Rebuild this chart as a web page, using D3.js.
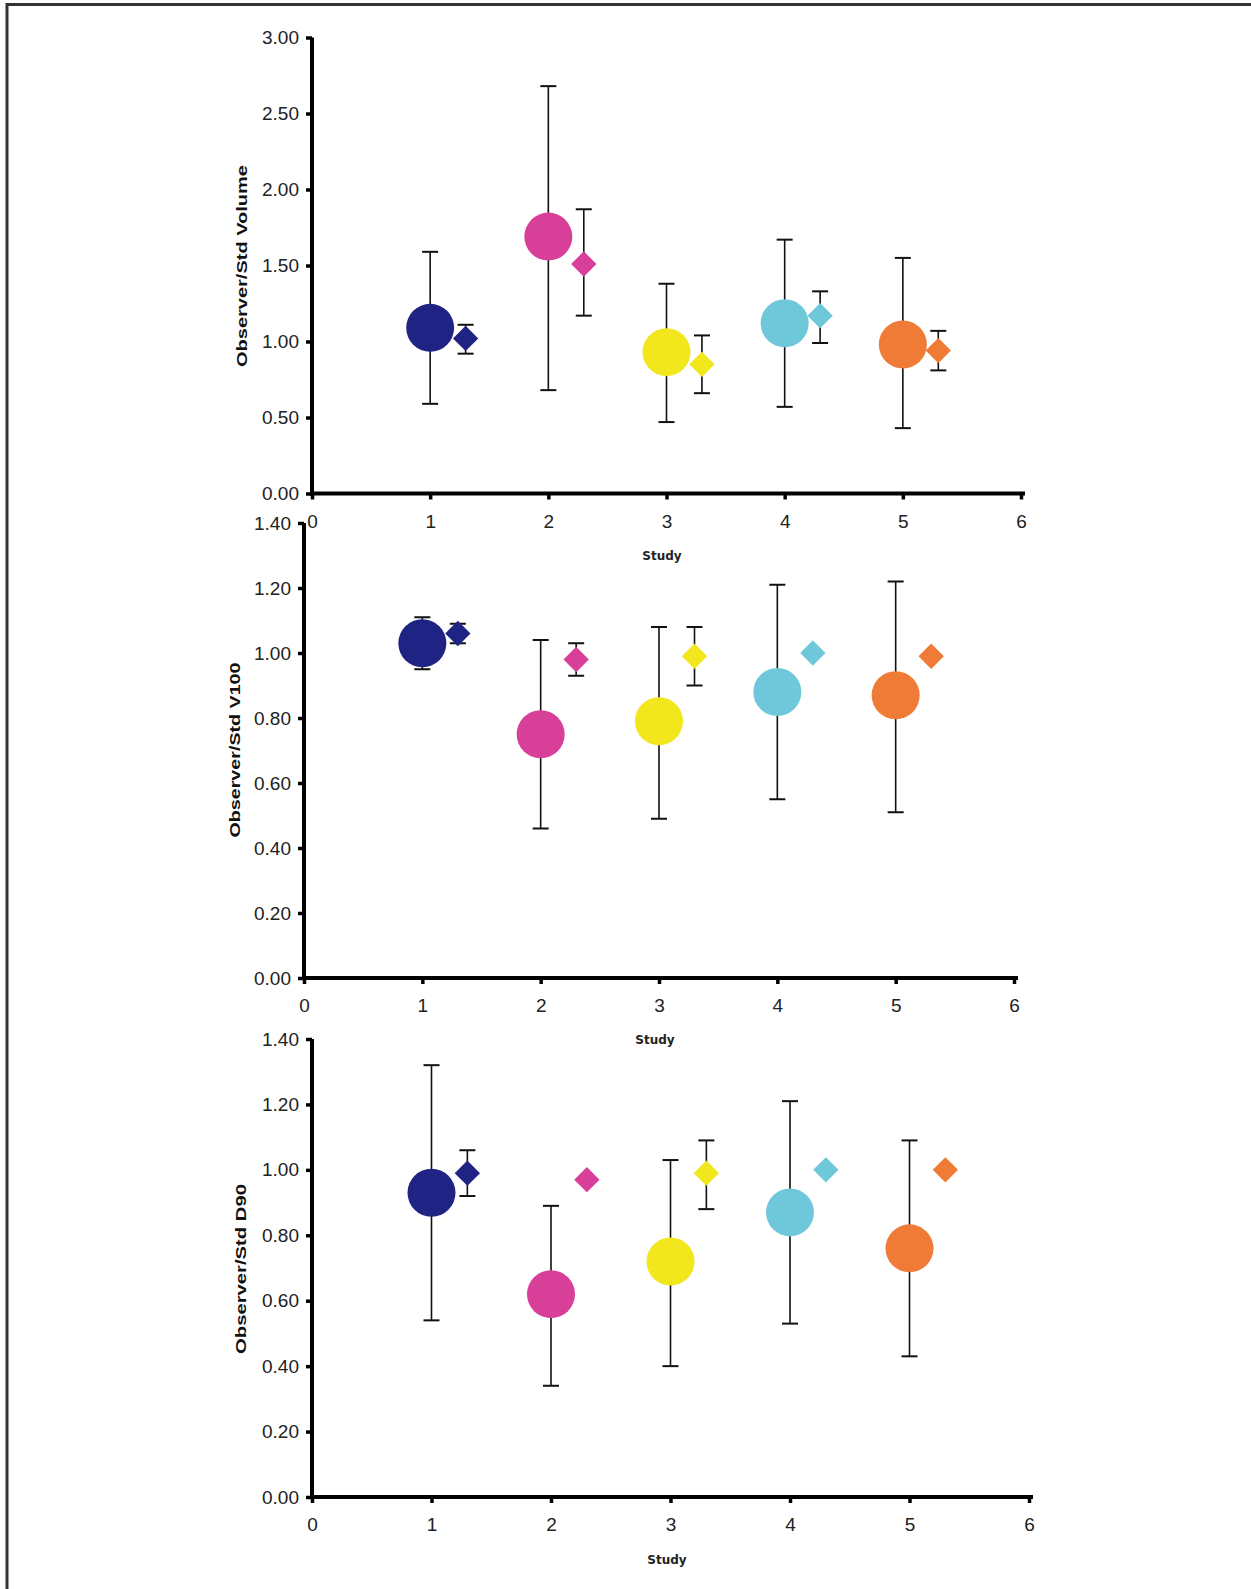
<!DOCTYPE html>
<html>
<head>
<meta charset="utf-8">
<script src="https://cdn.jsdelivr.net/npm/d3@7"></script>
<style>
  body { margin: 0; background: #fff; }
  svg { display: block; }
</style>
</head>
<body>
<div id="chart"></div>
<script>
// DATA
const studies = [1, 2, 3, 4, 5];
const diamondX = [1.3, 2.3, 3.3, 4.3, 5.3];
const xTicks = [0, 1, 2, 3, 4, 5, 6];
const colors = ['#1f2383', '#d83f98', '#f2e61c', '#6ec8da', '#ef7b37'];

// Observer/Std Volume
const volTicks = [0, 0.5, 1, 1.5, 2, 2.5, 3];
const volCircle = [1.09, 1.69, 0.93, 1.12, 0.98];
const volCircleLo = [0.59, 0.68, 0.47, 0.57, 0.43];
const volCircleHi = [1.59, 2.68, 1.38, 1.67, 1.55];
const volDiamond = [1.02, 1.51, 0.85, 1.17, 0.94];
const volDiamondLo = [0.92, 1.17, 0.66, 0.99, 0.81];
const volDiamondHi = [1.11, 1.87, 1.04, 1.33, 1.07];

// Observer/Std V100
const v100Ticks = [0, 0.2, 0.4, 0.6, 0.8, 1.0, 1.2, 1.4];
const v100Circle = [1.03, 0.75, 0.79, 0.88, 0.87];
const v100CircleLo = [0.95, 0.46, 0.49, 0.55, 0.51];
const v100CircleHi = [1.11, 1.04, 1.08, 1.21, 1.22];
const v100Diamond = [1.06, 0.98, 0.99, 1.00, 0.99];
const v100DiamondLo = [1.03, 0.93, 0.90, null, null];
const v100DiamondHi = [1.09, 1.03, 1.08, null, null];

// Observer/Std D90
const d90Ticks = [0, 0.2, 0.4, 0.6, 0.8, 1.0, 1.2, 1.4];
const d90Circle = [0.93, 0.62, 0.72, 0.87, 0.76];
const d90CircleLo = [0.54, 0.34, 0.40, 0.53, 0.43];
const d90CircleHi = [1.32, 0.89, 1.03, 1.21, 1.09];
const d90Diamond = [0.99, 0.97, 0.99, 1.00, 1.00];
const d90DiamondLo = [0.92, null, 0.88, null, null];
const d90DiamondHi = [1.06, null, 1.09, null, null];

const W = 1251, H = 1589;

const svg = d3.select('#chart').append('svg')
  .attr('width', W)
  .attr('height', H);

// frame (top + left edge only)
svg.append('line').attr('x1', 6).attr('x2', W).attr('y1', 4.5).attr('y2', 4.5)
  .attr('stroke', '#333').attr('stroke-width', 3);
svg.append('line').attr('x1', 7).attr('x2', 7).attr('y1', 3).attr('y2', H)
  .attr('stroke', '#333').attr('stroke-width', 3);

const panels = [
  {
    title: 'Observer/Std Volume', yMax: 3, yTicks: volTicks,
    left: 312, right: 1021, top: 37.5, bottom: 493.5,
    titleX: 242, titleY: 266, titleLen: 202, studyX: 662, studyY: 560,
    circle: volCircle, circleLo: volCircleLo, circleHi: volCircleHi,
    diamond: volDiamond, diamondLo: volDiamondLo, diamondHi: volDiamondHi
  },
  {
    title: 'Observer/Std V100', yMax: 1.4, yTicks: v100Ticks,
    left: 304, right: 1014, top: 523, bottom: 978,
    titleX: 235, titleY: 750, titleLen: 175, studyX: 655, studyY: 1044,
    circle: v100Circle, circleLo: v100CircleLo, circleHi: v100CircleHi,
    diamond: v100Diamond, diamondLo: v100DiamondLo, diamondHi: v100DiamondHi
  },
  {
    title: 'Observer/Std D90', yMax: 1.4, yTicks: d90Ticks,
    left: 312, right: 1029, top: 1039, bottom: 1497,
    titleX: 241, titleY: 1269, titleLen: 170, studyX: 667, studyY: 1564,
    circle: d90Circle, circleLo: d90CircleLo, circleHi: d90CircleHi,
    diamond: d90Diamond, diamondLo: d90DiamondLo, diamondHi: d90DiamondHi
  }
];

panels.forEach(p => drawPanel(p));

function drawPanel(p) {
  const x = d3.scaleLinear().domain([0, 6]).range([p.left, p.right]);
  const y = d3.scaleLinear().domain([0, p.yMax]).range([p.bottom, p.top]);

  const g = svg.append('g');

  // AXES
  const xAxis = g.append('g')
    .attr('transform', `translate(0,${p.bottom})`)
    .call(d3.axisBottom(x).tickValues(xTicks).tickFormat(d3.format('d'))
      .tickSize(6).tickSizeOuter(0).tickPadding(15));
  const yAxis = g.append('g')
    .attr('transform', `translate(${p.left},0)`)
    .call(d3.axisLeft(y).tickValues(p.yTicks).tickFormat(d3.format('.2f'))
      .tickSize(6).tickSizeOuter(0).tickPadding(7));

  [xAxis, yAxis].forEach(a => {
    a.select('.domain').attr('stroke', '#000').attr('stroke-width', 4);
    a.selectAll('.tick line').attr('stroke', '#000').attr('stroke-width', 3.5);
    a.selectAll('.tick text')
      .attr('fill', '#222')
      .attr('font-family', 'Liberation Sans, Arial, sans-serif')
      .attr('font-size', '19px');
  });
  // extend x axis line a little past the last tick
  xAxis.select('.domain').attr('d', `M${p.left - 2},0H${p.right + 4}`);
  yAxis.select('.domain').attr('d', `M0,${p.top}V${p.bottom + 2}`);

  g.append('text')
    .attr('transform', `translate(${p.titleX},${p.titleY}) rotate(-90)`)
    .attr('text-anchor', 'middle')
    .attr('dy', '0.35em')
    .attr('font-family', 'Liberation Sans, Arial, sans-serif')
    .attr('font-weight', 'bold')
    .attr('font-size', '15px')
    .attr('textLength', p.titleLen)
    .attr('lengthAdjust', 'spacingAndGlyphs')
    .attr('fill', '#111')
    .text(p.title);

  g.append('text')
    .attr('x', p.studyX)
    .attr('y', p.studyY)
    .attr('text-anchor', 'middle')
    .attr('font-family', 'DejaVu Sans, sans-serif')
    .attr('font-weight', 'bold')
    .attr('font-size', '12px')
    .attr('fill', '#222')
    .text('Study');

  // ERROR BARS
  const bars = [];
  studies.forEach((s, i) => {
    bars.push({ x: s, lo: p.circleLo[i], hi: p.circleHi[i] });
    if (p.diamondLo[i] != null) bars.push({ x: diamondX[i], lo: p.diamondLo[i], hi: p.diamondHi[i] });
  });
  const cap = 8;
  const eb = g.append('g').attr('stroke', '#111').attr('stroke-width', 1.6);
  eb.selectAll('.v').data(bars).join('line')
    .attr('x1', d => x(d.x)).attr('x2', d => x(d.x))
    .attr('y1', d => y(d.lo)).attr('y2', d => y(d.hi));
  eb.selectAll('.t').data(bars).join('line')
    .attr('x1', d => x(d.x) - cap).attr('x2', d => x(d.x) + cap)
    .attr('y1', d => y(d.hi)).attr('y2', d => y(d.hi)).attr('stroke-width', 2);
  eb.selectAll('.b').data(bars).join('line')
    .attr('x1', d => x(d.x) - cap).attr('x2', d => x(d.x) + cap)
    .attr('y1', d => y(d.lo)).attr('y2', d => y(d.lo)).attr('stroke-width', 2);

  // MARKERS
  g.append('g').selectAll('circle')
    .data(studies)
    .join('circle')
    .attr('cx', d => x(d))
    .attr('cy', (d, i) => y(p.circle[i]))
    .attr('r', 24)
    .attr('fill', (d, i) => colors[i]);

  const diamond = d3.symbol(d3.symbolSquare, 320);
  g.append('g').selectAll('path')
    .data(diamondX)
    .join('path')
    .attr('d', diamond)
    .attr('transform', (d, i) => `translate(${x(d)},${y(p.diamond[i])}) rotate(45)`)
    .attr('fill', (d, i) => colors[i]);
}
</script>
</body>
</html>
